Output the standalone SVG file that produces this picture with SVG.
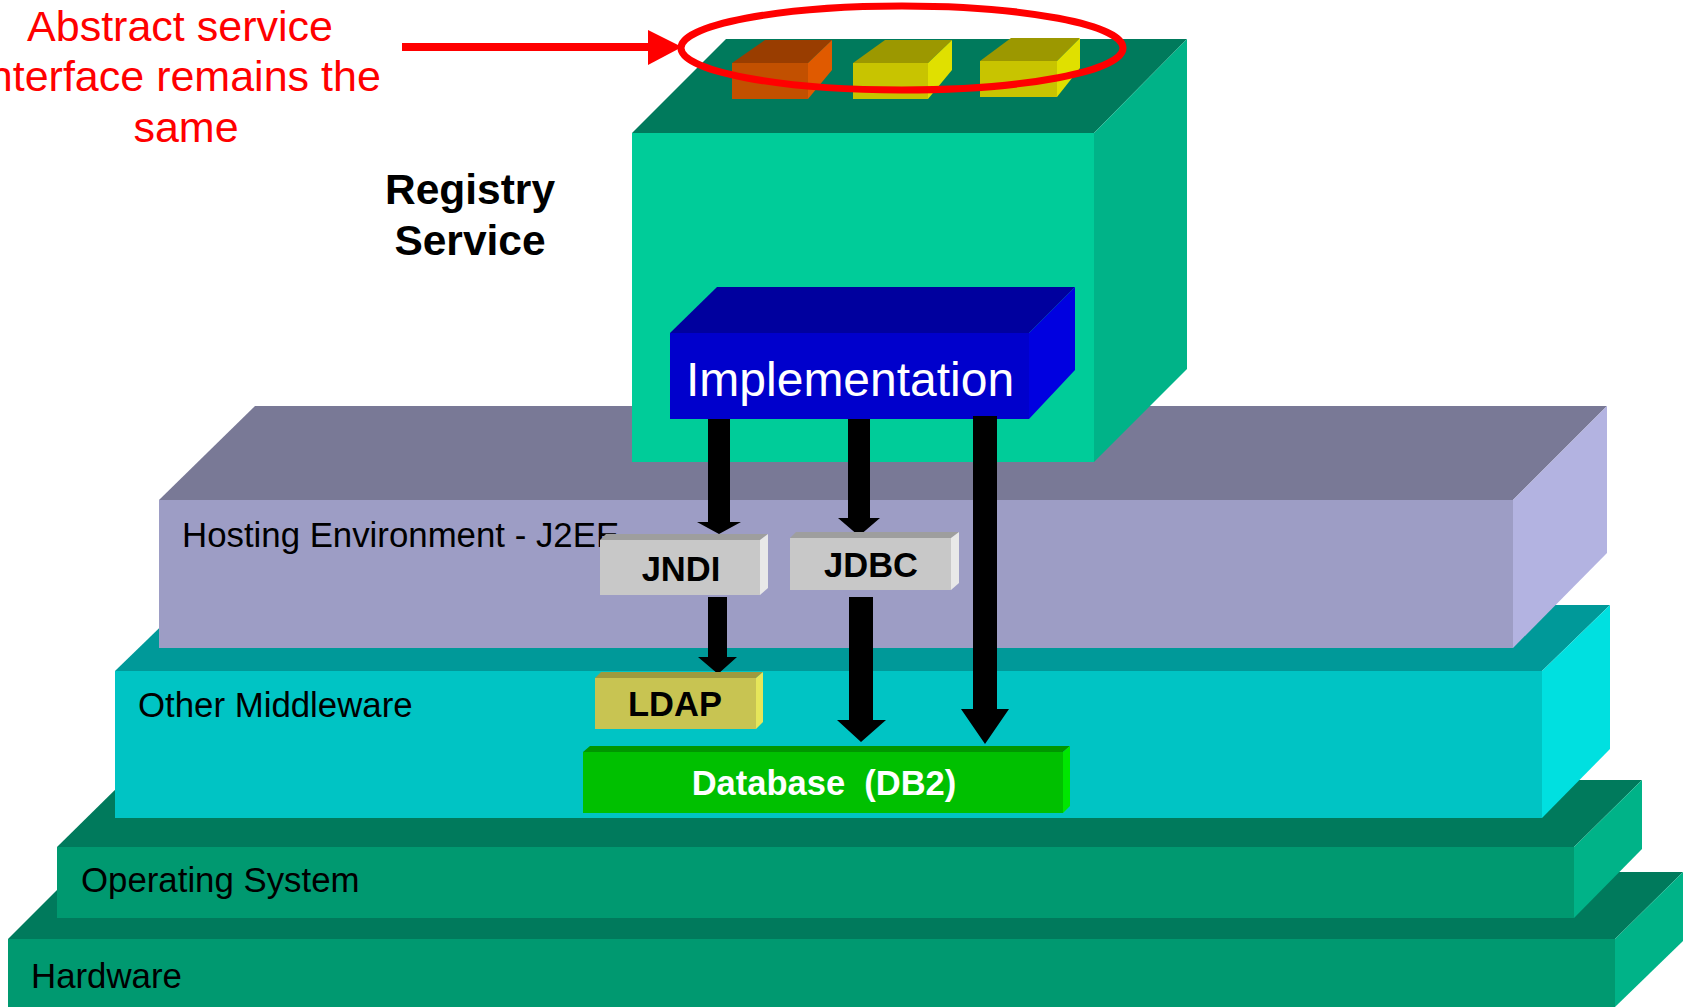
<svg xmlns="http://www.w3.org/2000/svg" width="1686" height="1007" viewBox="0 0 1686 1007">
  <style>
    .lbl { font-family: "Liberation Sans", Arial, sans-serif; fill: #000; }
    .layer { font-size: 34.8px; }
    .bold { font-weight: bold; }
    .box { font-size: 34.5px; font-weight: bold; text-anchor: middle; }
    .arrow { fill: #000; }
    /* stacked green base slabs */
    .g-top { fill: #007a5c; }
    .g-front { fill: #009970; }
    .g-side { fill: #00b388; }
    .mw-top { fill: #009999; }
    .mw-front { fill: #00c4c4; }
    .mw-side { fill: #00e0e0; }
    .he-top { fill: #797996; }
    .he-front { fill: #9d9dc5; }
    .he-side { fill: #b3b3e1; }
    .rs-front { fill: #00cc99; }
    .gray-top { fill: #9e9e9e; }
    .gray-front { fill: #c8c8c8; }
    .gray-side { fill: #e8e8e8; }
  </style>

  <rect width="1686" height="1007" fill="#ffffff"/>

  <!-- Hardware slab -->
  <g id="hardware">
    <polygon class="g-top" points="8,939 75,872 1683,872 1615,939"/>
    <rect class="g-front" x="8" y="939" width="1607" height="68"/>
    <polygon class="g-side" points="1615,939 1683,872 1683,941 1615,1007"/>
    <text class="lbl layer" x="31" y="988">Hardware</text>
  </g>

  <!-- Operating system slab -->
  <g id="operating-system">
    <polygon class="g-top" points="57,847 125,780 1642,780 1574,847"/>
    <rect class="g-front" x="57" y="847" width="1517" height="71"/>
    <polygon class="g-side" points="1574,847 1642,780 1642,849 1574,918"/>
    <text class="lbl layer" x="81" y="892">Operating System</text>
  </g>

  <!-- Other middleware slab -->
  <g id="other-middleware">
    <polygon class="mw-top" points="115,671 183,605 1610,605 1542,671"/>
    <rect class="mw-front" x="115" y="671" width="1427" height="147"/>
    <polygon class="mw-side" points="1542,671 1610,605 1610,749 1542,818"/>
    <text class="lbl layer" x="138" y="717">Other Middleware</text>
  </g>

  <!-- Hosting environment slab -->
  <g id="hosting-environment">
    <polygon class="he-top" points="159,500 255,406 1607,406 1513,500"/>
    <rect class="he-front" x="159" y="500" width="1354" height="148"/>
    <polygon class="he-side" points="1513,500 1607,406 1607,553 1513,648"/>
    <text class="lbl layer" x="182" y="547">Hosting Environment - J2EE</text>
  </g>

  <!-- Registry service block -->
  <g id="registry-service">
    <polygon class="g-top" points="632,133 726,39 1187,39 1094,133"/>
    <rect class="rs-front" x="632" y="133" width="462" height="329"/>
    <polygon class="g-side" points="1094,133 1187,39 1187,369 1094,462"/>
    <text class="lbl bold" font-size="42.5" text-anchor="middle" x="470" y="204">Registry</text>
    <text class="lbl bold" font-size="42.5" text-anchor="middle" x="470" y="255">Service</text>
  </g>

  <!-- Interface cubes on top of the registry block -->
  <g id="interface-cube-1">
    <polygon fill="#993d00" points="732,63 765,40 832,40 808,63"/>
    <rect fill="#c25000" x="732" y="63" width="76" height="36"/>
    <polygon fill="#e05a00" points="808,63 832,40 832,70 808,99"/>
  </g>
  <g id="interface-cube-2">
    <polygon fill="#9c9800" points="853,63 885,40 952,40 928,63"/>
    <rect fill="#c8c400" x="853" y="63" width="75" height="36"/>
    <polygon fill="#e0e000" points="928,63 952,40 952,70 928,99"/>
  </g>
  <g id="interface-cube-3">
    <polygon fill="#9c9800" points="980,61 1011,38 1080,38 1057,61"/>
    <rect fill="#c8c400" x="980" y="61" width="77" height="36"/>
    <polygon fill="#e0e000" points="1057,61 1080,38 1080,68 1057,97"/>
  </g>

  <!-- Implementation block -->
  <g id="implementation">
    <polygon fill="#00009e" points="670,333 717,287 1075,287 1029,333"/>
    <rect fill="#0000cc" x="670" y="333" width="359" height="86"/>
    <polygon fill="#0000e0" points="1029,333 1075,287 1075,370 1029,419"/>
    <text class="lbl" font-size="48" style="fill:#ffffff" x="686" y="396">Implementation</text>
  </g>

  <!-- Callout -->
  <g id="callout">
    <ellipse cx="902" cy="48" rx="221" ry="42" fill="none" stroke="#ff0000" stroke-width="7"/>
    <text class="lbl" font-size="43" text-anchor="middle" style="fill:#ff0000">
      <tspan x="186" y="41">Abstract service</tspan>
      <tspan x="186" y="91">interface remains the</tspan>
      <tspan x="186" y="142">same</tspan>
    </text>
  </g>

  <!-- Connectors -->
  <g id="connectors">
    <rect x="402" y="43" width="248" height="8" fill="#ff0000"/>
    <polygon fill="#ff0000" points="648,30 682,47 648,65"/>

    <polygon class="arrow" points="708,419 730,419 730,522 741,522 719,534 697,522 708,522"/>
    <polygon class="arrow" points="848,419 870,419 870,518 880,518 859,536 838,518 848,518"/>
    <polygon class="arrow" points="973,416 997,416 997,709 1009,709 985,744 961,709 973,709"/>
    <polygon class="arrow" points="708,597 727,597 727,657 737,657 718,674 698,657 708,657"/>
    <polygon class="arrow" points="849,597 873,597 873,720 886,720 861,742 837,720 849,720"/>
  </g>

  <!-- Service components -->
  <g id="jndi">
    <polygon class="gray-top" points="600,540 606,534 768,534 760,540"/>
    <rect class="gray-front" x="600" y="540" width="160" height="55"/>
    <polygon class="gray-side" points="760,540 768,534 768,588 760,595"/>
    <text class="lbl box" x="681" y="581">JNDI</text>
  </g>

  <g id="jdbc">
    <polygon class="gray-top" points="790,538 796,532 959,532 951,538"/>
    <rect class="gray-front" x="790" y="538" width="161" height="52"/>
    <polygon class="gray-side" points="951,538 959,532 959,583 951,590"/>
    <text class="lbl box" x="871" y="577">JDBC</text>
  </g>

  <g id="ldap">
    <polygon fill="#9e9a3e" points="595,678 601,672 763,672 756,678"/>
    <rect fill="#c8c452" x="595" y="678" width="161" height="51"/>
    <polygon fill="#e6e65a" points="756,678 763,672 763,722 756,729"/>
    <text class="lbl box" x="675" y="716">LDAP</text>
  </g>

  <g id="database">
    <polygon fill="#009600" points="583,752 590,746 1070,746 1063,752"/>
    <rect fill="#00c000" x="583" y="752" width="480" height="61"/>
    <polygon fill="#00e600" points="1063,752 1070,746 1070,806 1063,813"/>
    <text class="lbl box" x="824" y="795" style="fill:#ffffff; white-space:pre" xml:space="preserve">Database  (DB2)</text>
  </g>
</svg>
